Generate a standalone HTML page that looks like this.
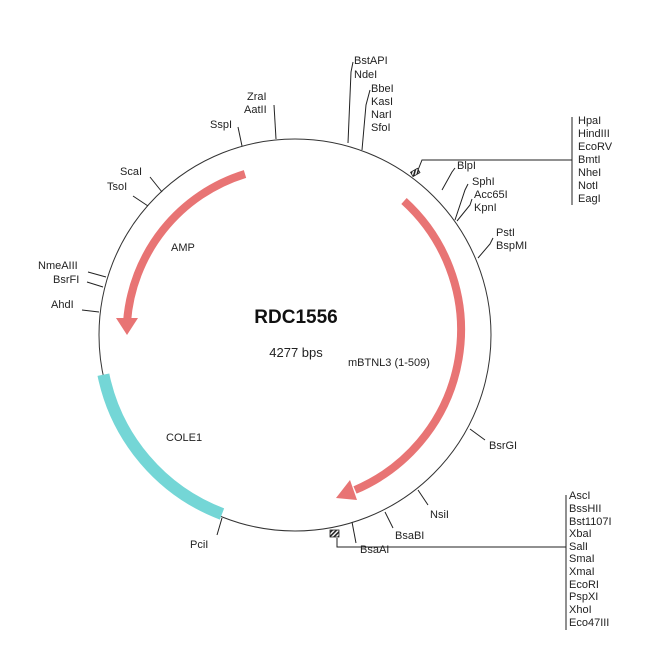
<!DOCTYPE html>
<html><head><meta charset="utf-8"><style>
html,body{margin:0;padding:0;background:#fff;}
svg{display:block;font-family:"Liberation Sans",sans-serif;}
text{font-size:11px;fill:#222;}
</style></head><body>
<svg width="650" height="650" viewBox="0 0 650 650">
<defs>
<pattern id="h" width="3" height="3" patternUnits="userSpaceOnUse" patternTransform="rotate(45)"><rect width="3" height="3" fill="#fff"/><rect width="1.6" height="3" fill="#222"/></pattern>
</defs>
<circle cx="295" cy="335" r="196" fill="none" stroke="#333" stroke-width="1"/>
<!-- COLE1 -->
<path d="M103.4 374.7 A190 190 0 0 0 222 514" fill="none" stroke="#74d6d6" stroke-width="12"/>
<!-- AMP arrow -->
<path d="M245 174 A168 168 0 0 0 127 322" fill="none" stroke="#e87474" stroke-width="8"/>
<polygon points="116,318 138,318 127,335" fill="#e87474"/>
<!-- mBTNL3 -->
<path d="M404 201 A174 174 0 0 1 355 490" fill="none" stroke="#e87474" stroke-width="8"/>
<polygon points="350,480 357,500 336,498" fill="#e87474"/>
<g stroke="#222" stroke-width="1" fill="none">
<line x1="242" y1="146" x2="238" y2="127"/>
<line x1="276" y1="139" x2="274" y2="105"/>
<line x1="162" y1="192" x2="150" y2="177"/>
<line x1="148" y1="206" x2="133" y2="196"/>
<line x1="106" y1="277" x2="88" y2="272"/>
<line x1="103" y1="287" x2="87" y2="282"/>
<line x1="99" y1="312" x2="82" y2="310"/>
<polyline points="348,143 351,72 353,62"/>
<polyline points="362,150 366,105 370,90"/>
<polyline points="418,170 422,160 572,160"/>
<line x1="572" y1="117" x2="572" y2="205"/>
<polyline points="442,190 452,172 455,168"/>
<polyline points="455,220 465,190 468,184"/>
<polyline points="457,221 470,205 472,199"/>
<polyline points="478,258 490,244 493,238"/>
<line x1="470" y1="429" x2="485" y2="440"/>
<line x1="418" y1="490" x2="428" y2="505"/>
<line x1="385" y1="512" x2="393" y2="528"/>
<line x1="352" y1="522" x2="356" y2="543"/>
<line x1="222" y1="518" x2="217" y2="535"/>
<polyline points="337,538 337,547 566,547"/>
<line x1="566" y1="495" x2="566" y2="630"/>
</g>
<rect x="411" y="170" width="8" height="5" fill="url(#h)" stroke="#222" stroke-width="0.8" transform="rotate(-30 415 172)"/>
<rect x="330" y="530" width="9" height="7" fill="url(#h)" stroke="#222" stroke-width="0.8"/>
<text x="210" y="128">SspI</text>
<text x="247" y="100">ZraI</text>
<text x="244" y="113">AatII</text>
<text x="120" y="175">ScaI</text>
<text x="107" y="190">TsoI</text>
<text x="38" y="269">NmeAIII</text>
<text x="53" y="283">BsrFI</text>
<text x="51" y="308">AhdI</text>
<text x="354" y="64">BstAPI</text>
<text x="354" y="78">NdeI</text>
<text x="371" y="92">BbeI</text>
<text x="371" y="105">KasI</text>
<text x="371" y="118">NarI</text>
<text x="371" y="131">SfoI</text>
<text x="578" y="124">HpaI</text>
<text x="578" y="137">HindIII</text>
<text x="578" y="150">EcoRV</text>
<text x="578" y="163">BmtI</text>
<text x="578" y="176">NheI</text>
<text x="578" y="189">NotI</text>
<text x="578" y="202">EagI</text>
<text x="457" y="169">BlpI</text>
<text x="472" y="185">SphI</text>
<text x="474" y="198">Acc65I</text>
<text x="474" y="211">KpnI</text>
<text x="496" y="236">PstI</text>
<text x="496" y="249">BspMI</text>
<text x="489" y="449">BsrGI</text>
<text x="430" y="518">NsiI</text>
<text x="395" y="539">BsaBI</text>
<text x="360" y="553">BsaAI</text>
<text x="190" y="548">PciI</text>
<text x="569" y="499">AscI</text>
<text x="569" y="512">BssHII</text>
<text x="569" y="525">Bst1107I</text>
<text x="569" y="537">XbaI</text>
<text x="569" y="550">SalI</text>
<text x="569" y="562">SmaI</text>
<text x="569" y="575">XmaI</text>
<text x="569" y="588">EcoRI</text>
<text x="569" y="600">PspXI</text>
<text x="569" y="613">XhoI</text>
<text x="569" y="626">Eco47III</text>
<text x="296" y="323" text-anchor="middle" style="font-size:19px;font-weight:bold;fill:#111">RDC1556</text>
<text x="296" y="357" text-anchor="middle" style="font-size:13px">4277 bps</text>
<text x="171" y="251">AMP</text>
<text x="348" y="366">mBTNL3 (1-509)</text>
<text x="166" y="441">COLE1</text>
</svg>
</body></html>
